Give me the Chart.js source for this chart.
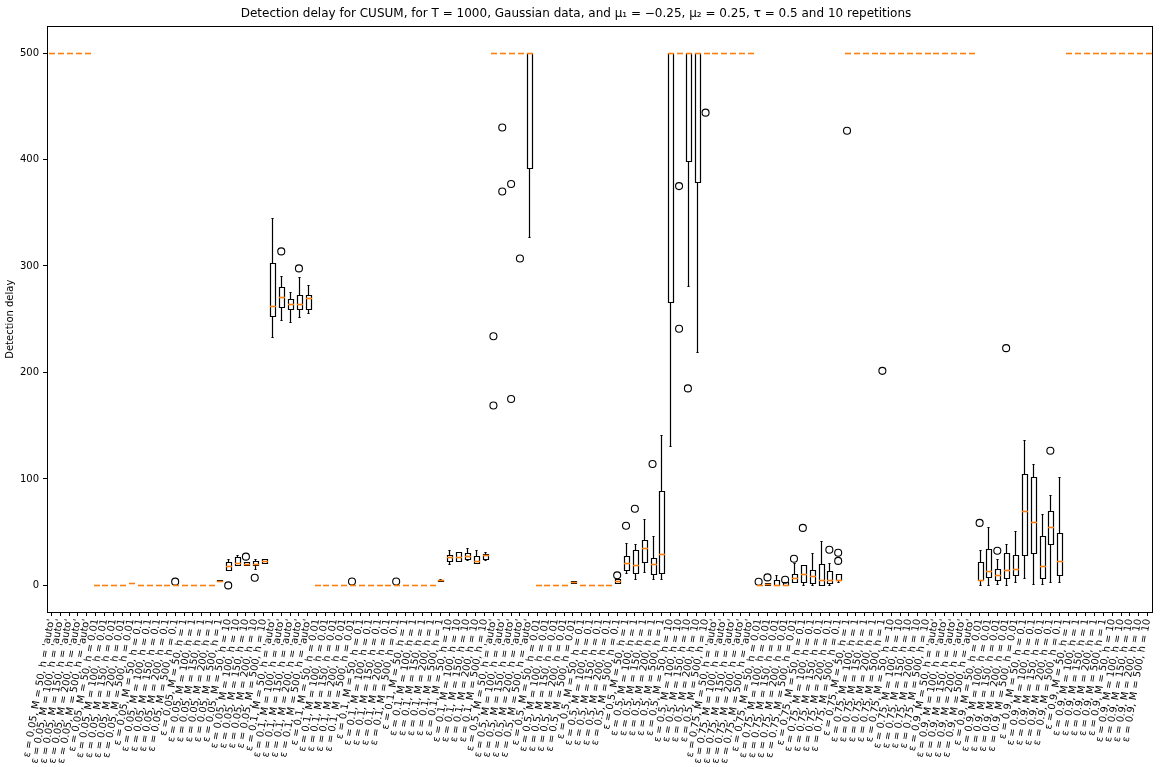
<!DOCTYPE html>
<html>
<head>
<meta charset="utf-8">
<title>Detection delay for CUSUM</title>
<script src="https://cdn.jsdelivr.net/npm/chart.js@4.4.1/dist/chart.umd.min.js"></script>
<style>
  html, body { margin: 0; padding: 0; background: #fff; }
  #wrap { width: 1171px; height: 767px; position: relative; }
</style>
</head>
<body>
<div id="wrap"><canvas id="chart"></canvas></div>
<script>
// Detection delay boxplots (CUSUM, T = 1000, 10 repetitions)

const epsilons = ['0.05', '0.1', '0.5', '0.75', '0.9'];
const hValues = ["'auto'", '0.01', '0.1', '1', '10'];
const mValues = ['50', '100', '150', '200', '500'];
const yTicks = [0, 100, 200, 300, 400, 500];

// One entry per category, order: eps -> h -> M (25 per epsilon)
const whiskerLow = [
  500, 500, 500, 500, 500, 0, 0, 0, 0, 2.5, 0, 0, 0, 0, 0, 0, 0, 0, 0, 4, 14.4, 18.7, 18.7, 15, 20.6,
  233.6, 249.3, 247.1, 252.1, 255.6, 0, 0, 0, 0, 0, 0, 0, 0, 0, 0, 0, 0, 0, 0, 4, 20, 22.7, 23.4, 21, 23.4,
  500, 500, 500, 500, 327, 0, 0, 0, 0, 2, 0, 0, 0, 0, 2.5, 11.2, 5.6, 12.8, 6.2, 5.6, 131, 500, 281, 219, 500,
  500, 500, 500, 500, 500, 0, 0, 0, 0, 2.8, 0, 0.3, 0.3, 0.3, 2.8, 500, 500, 500, 500, 500, 500, 500, 500, 500, 500,
  500, 500, 500, 500, 500, 0, 0, 1, 0, 3.1, 7.2, 1, 1, 3, 3, 500, 500, 500, 500, 500, 500, 500, 500, 500, 500,
];
const q1 = [
  500, 500, 500, 500, 500, 0, 0, 0, 0, 2.5, 0, 0, 0, 0, 0, 0, 0, 0, 0, 4, 14.4, 18.7, 18.7, 19.4, 20.6,
  253, 261.2, 259.6, 259.3, 259.6, 0, 0, 0, 0, 0, 0, 0, 0, 0, 0, 0, 0, 0, 0, 4.5, 22.7, 22.7, 25, 21, 25,
  500, 500, 500, 500, 392, 0, 0, 0, 0, 2, 0, 0, 0, 0, 2.5, 14.4, 12, 22.2, 11, 11.9, 266, 500, 399, 378.5, 500,
  500, 500, 500, 500, 500, 0, 0, 0, 0, 2.8, 3.4, 2.2, 0.3, 2.5, 5, 500, 500, 500, 500, 500, 500, 500, 500, 500, 500,
  500, 500, 500, 500, 500, 5, 7.5, 5.3, 7.2, 10, 28.7, 30.6, 7.2, 39, 10, 500, 500, 500, 500, 500, 500, 500, 500, 500, 500,
];
const median = [
  500, 500, 500, 500, 500, 0, 0, 0, 0, 2.5, 0, 0, 0, 0, 0, 0, 0, 0, 0, 4.5, 18.4, 21, 20.3, 20, 23.1,
  262.4, 270.6, 264, 264, 269.6, 0, 0, 0, 0, 0, 0, 0, 0, 0, 0, 0, 0, 0, 0, 5, 26.7, 26.7, 27.7, 22.7, 28.4,
  500, 500, 500, 500, 500, 0, 0, 0, 0, 3, 0, 0, 0, 0, 4, 21.2, 18.7, 35.3, 19.7, 29.7, 500, 500, 500, 500, 500,
  500, 500, 500, 500, 500, 0, 1, 0, 0, 7.2, 11, 8.4, 5.3, 5.3, 5.3, 500, 500, 500, 500, 500, 500, 500, 500, 500, 500,
  500, 500, 500, 500, 500, 5, 13.4, 10, 14.7, 15.6, 70.3, 59.7, 18.4, 55, 23, 500, 500, 500, 500, 500, 500, 500, 500, 500, 500,
];
const q3 = [
  500, 500, 500, 500, 500, 0, 0, 0, 0, 2.5, 0, 0, 0, 0, 0, 0, 0, 0, 0, 5, 21.9, 26.2, 22.2, 23, 24.7,
  302.4, 280, 269.3, 272.4, 273, 0, 0, 0, 0, 0, 0, 0, 0, 0, 0, 0, 0, 0, 0, 5.5, 29, 31, 30, 27.7, 29.4,
  500, 500, 500, 500, 500, 0, 0, 0, 0, 4, 0, 0, 0, 0, 5.6, 28, 33, 42.8, 26, 88.7, 500, 500, 500, 500, 500,
  500, 500, 500, 500, 500, 0, 2, 5.3, 3, 11, 19.4, 14.7, 20.3, 13.7, 11, 500, 500, 500, 500, 500, 500, 500, 500, 500, 500,
  500, 500, 500, 500, 500, 22.2, 34.4, 15.3, 30.6, 28.7, 105, 102, 46.6, 70.3, 49.4, 500, 500, 500, 500, 500, 500, 500, 500, 500, 500,
];
const whiskerHigh = [
  500, 500, 500, 500, 500, 0, 0, 0, 0, 2.5, 0, 0, 0, 0, 0, 0, 0, 0, 0, 5, 25, 28.7, 22.2, 25, 24.7,
  345.5, 290.8, 275.3, 289.3, 281.8, 0, 0, 0, 0, 0, 0, 0, 0, 0, 0, 0, 0, 0, 0, 6, 32.8, 31, 34.8, 32.8, 31,
  500, 500, 500, 500, 500, 0, 0, 0, 0, 4, 0, 0, 0, 0, 5.6, 40, 39, 62.8, 46.6, 141, 500, 500, 500, 500, 500,
  500, 500, 500, 500, 500, 0, 2, 10, 3, 21, 19.4, 30.6, 41.5, 21, 11, 500, 500, 500, 500, 500, 500, 500, 500, 500, 500,
  500, 500, 500, 500, 500, 33, 55, 25, 39, 51.5, 136.5, 114, 67, 85, 102, 500, 500, 500, 500, 500, 500, 500, 500, 500, 500,
];

// Fliers: category index and value
const outlierCategory = [
  14, 20, 22, 23, 26, 28, 34, 39,
  50, 50, 51, 51, 52, 52, 53, 64, 65, 66, 68, 71, 71, 72, 74,
  80, 81, 83, 84, 85, 88, 89, 89, 90, 94,
  105, 107, 108, 113,
];
const outlierValue = [
  3.5, 0, 27, 7.2, 313.7, 297.7, 3.7, 3.7,
  234, 169, 430, 370, 377, 175, 307, 9.4, 56, 72, 114, 375, 241, 185, 444,
  3.4, 7.5, 5.3, 25, 54, 33.4, 30.6, 23, 427, 201.5,
  58.7, 32.5, 222.8, 126.5,
];

const labels = [];
epsilons.forEach((e) => {
  hValues.forEach((h) => {
    mValues.forEach((m) => {
      labels.push(`ε = ${e}, M = ${m}, h = ${h}`);
    });
  });
});

const FONT = 'DejaVu Sans';
const MEDIAN_COLOR = '#ff7f0e';

const crisp = (v) => Math.round(v) + 0.5;

// boxes, whiskers, caps and medians, placed with the chart's own scales
const boxPlot = {
  id: 'boxPlot',
  afterDatasetsDraw(chart) {
    const { ctx, scales: { x, y } } = chart;
    const step = x.width / labels.length;
    const half = step * 0.25;
    const cap = half / 2;
    ctx.save();
    labels.forEach((_, i) => {
      const cx = crisp(x.getPixelForValue(i));
      const left = crisp(cx - half);
      const right = crisp(cx + half);
      const yLo = crisp(y.getPixelForValue(whiskerLow[i]));
      const yQ1 = crisp(y.getPixelForValue(q1[i]));
      const yQ3 = crisp(y.getPixelForValue(q3[i]));
      const yHi = crisp(y.getPixelForValue(whiskerHigh[i]));
      const yMed = crisp(y.getPixelForValue(median[i]));
      // a fully collapsed box only shows its median
      if (yLo !== yHi) {
        ctx.strokeStyle = '#000';
        ctx.lineWidth = 1.2;
        ctx.beginPath();
        if (yQ1 !== yQ3) {
          ctx.rect(left, yQ3, right - left, yQ1 - yQ3);
        } else {
          ctx.moveTo(left, yQ1); ctx.lineTo(right, yQ1);
        }
        if (yLo !== yQ1) { ctx.moveTo(cx, yLo); ctx.lineTo(cx, yQ1); }
        if (yHi !== yQ3) { ctx.moveTo(cx, yQ3); ctx.lineTo(cx, yHi); }
        ctx.moveTo(cx - cap, yLo); ctx.lineTo(cx + cap, yLo);
        ctx.moveTo(cx - cap, yHi); ctx.lineTo(cx + cap, yHi);
        ctx.stroke();
      }
      ctx.strokeStyle = MEDIAN_COLOR;
      ctx.lineWidth = 1.6;
      ctx.beginPath();
      ctx.moveTo(left - 0.5, yMed); ctx.lineTo(right + 0.5, yMed);
      ctx.stroke();
    });
    ctx.restore();
  },
};

// full frame around the plot area
const frame = {
  id: 'frame',
  afterDraw(chart) {
    const { ctx, chartArea: a } = chart;
    ctx.save();
    ctx.strokeStyle = '#000';
    ctx.lineWidth = 1;
    ctx.strokeRect(crisp(a.left), crisp(a.top),
      Math.round(a.right - a.left), Math.round(a.bottom - a.top));
    ctx.restore();
  },
};

const config = {
  type: 'scatter',
  data: {
    labels,
    datasets: [
      {
        label: 'fliers',
        data: outlierCategory.map((c, k) => ({ x: labels[c], y: outlierValue[k] })),
        pointRadius: 3.5,
        pointBorderWidth: 1.1,
        pointBorderColor: '#000',
        pointBackgroundColor: 'rgba(0,0,0,0)',
      },
    ],
  },
  options: {
    responsive: true,
    maintainAspectRatio: false,
    animation: false,
    layout: { padding: { left: 0, right: 19, top: 0, bottom: 0 } },
    scales: {
      x: {
        type: 'category',
        offset: true,
        ticks: {
          autoSkip: false,
          minRotation: 80,
          maxRotation: 80,
          color: '#000',
          padding: 2,
          font: { family: FONT, size: 10 },
        },
        grid: { drawOnChartArea: false, drawTicks: true, tickLength: 4, color: '#000', offset: false },
        border: { color: '#000' },
        afterFit: (scale) => { scale.height = 155; },
      },
      y: {
        type: 'linear',
        min: -25,
        max: 525,
        afterBuildTicks: (scale) => { scale.ticks = yTicks.map((v) => ({ value: v })); },
        ticks: { color: '#000', padding: 4, font: { family: FONT, size: 10 } },
        grid: { drawOnChartArea: false, drawTicks: true, tickLength: 4, color: '#000' },
        border: { color: '#000' },
        title: {
          display: true,
          text: 'Detection delay',
          color: '#000',
          font: { family: FONT, size: 10 },
          padding: { top: 4, bottom: 0 },
        },
        afterFit: (scale) => { scale.width = 47; },
      },
    },
    plugins: {
      legend: { display: false },
      tooltip: { enabled: false },
      title: {
        display: true,
        text: 'Detection delay for CUSUM, for T = 1000, Gaussian data, and μ₁ = −0.25, μ₂ = 0.25, τ = 0.5 and 10 repetitions',
        color: '#000',
        font: { family: FONT, size: 12, weight: 'normal' },
        padding: { top: 7, bottom: 5 },
      },
    },
  },
  plugins: [boxPlot, frame],
};

new Chart(document.getElementById('chart'), config);
</script>
</body>
</html>
